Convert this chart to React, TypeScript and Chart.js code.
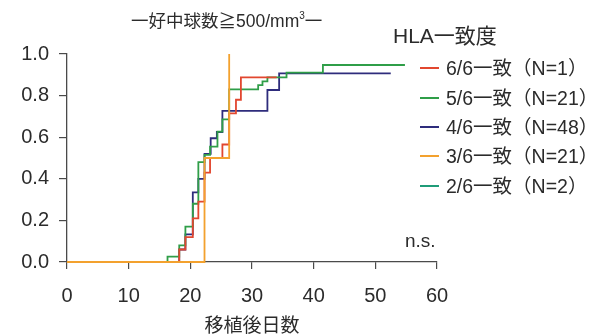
import React, { useEffect, useRef } from "react";
import { Chart, registerables } from "chart.js";

Chart.register(...registerables);

// ---- data ----
const seriesLabels = [
  "6/6一致（N=1）",
  "5/6一致（N=21）",
  "4/6一致（N=48）",
  "3/6一致（N=21）",
  "2/6一致（N=2）",
];
const seriesColors = ["#e2472f", "#2f9e48", "#2e2c7c", "#f3a12e", "#1f9c78"];

const redDays = [0, 18.2, 19.2, 20.4, 21.3, 22.3, 23.2, 25.2, 26.3, 27.4, 28.2, 34.0];
const redVals = [0, 0.06, 0.12, 0.21, 0.29, 0.43, 0.5, 0.565, 0.715, 0.78, 0.888, 0.888];

const greenDays = [0, 16.3, 18.2, 19.2, 20.4, 21.3, 22.3, 23.2, 24.4, 25.2, 26.3, 31.0, 31.7, 32.5, 35.6, 41.5, 54.8];
const greenVals = [0, 0.026, 0.08, 0.17, 0.28, 0.48, 0.515, 0.555, 0.627, 0.686, 0.83, 0.85, 0.868, 0.888, 0.91, 0.947, 0.947];

const blueDays = [0, 18.2, 19.2, 20.4, 21.3, 22.3, 23.3, 24.3, 25.2, 32.5, 34.4, 52.5];
const blueVals = [0, 0.06, 0.133, 0.335, 0.4, 0.52, 0.595, 0.625, 0.727, 0.827, 0.907, 0.907];

const orangeDays = [0, 22.3, 26.3];
const orangeVals = [0, 0.5, 1.0];

const tealDays: number[] = [];
const tealVals: number[] = [];

const xTicks = [0, 10, 20, 30, 40, 50, 60];
const yTicks = [0, 0.2, 0.4, 0.6, 0.8, 1.0];

const chartTitleA = "一好中球数≧500/mm";
const chartTitleSup = "3";
const chartTitleB = "一";
const legendTitle = "HLA一致度";
const xTitle = "移植後日数";
const sigText = "n.s.";

const FONT = "'Liberation Sans', 'Noto Sans CJK JP', sans-serif";
const TEXT = "#2b2b2b";
const AXIS = "#4a4a4a";

const allDays = [redDays, greenDays, blueDays, orangeDays, tealDays];
const allVals = [redVals, greenVals, blueVals, orangeVals, tealVals];
const drawOrder = [1, 2, 3, 0, 4];

export default function App() {
  const ref = useRef<HTMLCanvasElement | null>(null);

  useEffect(() => {
    if (!ref.current) return;
    const datasets = seriesLabels.map((label, i) => ({
      label,
      data: allDays[i].map((d, j) => ({ x: d, y: allVals[i][j] })),
      borderColor: seriesColors[i],
      backgroundColor: seriesColors[i],
      borderWidth: 1.8,
      pointRadius: 0,
      stepped: "before" as const,
      fill: false,
      order: drawOrder[i],
      clip: 4,
    }));
    const chart = new Chart(ref.current, {
      type: "line",
      data: { datasets },
      options: {
        animation: false,
        responsive: false,
        maintainAspectRatio: false,
        layout: { padding: { left: 0, right: 176, top: 54, bottom: 0 } },
        plugins: {
          legend: { display: false },
          tooltip: { enabled: false },
          title: { display: false },
        },
        scales: {
          x: {
            type: "linear",
            min: 0,
            max: 60,
            afterFit: (s: any) => {
              s.height = 74;
            },
            afterBuildTicks: (s: any) => {
              s.ticks = xTicks.map((v) => ({ value: v }));
            },
            ticks: {
              color: TEXT,
              padding: 15,
              font: { family: FONT, size: 20 },
              maxRotation: 0,
              autoSkip: false,
            },
            grid: {
              display: true,
              drawOnChartArea: false,
              drawTicks: true,
              tickLength: 7,
              color: AXIS,
              lineWidth: 1.2,
            },
            border: { display: true, color: AXIS, width: 1.3 },
            title: {
              display: true,
              text: xTitle,
              color: TEXT,
              font: { family: FONT, size: 19, lineHeight: 1.0 },
              padding: { top: 0, bottom: 0 },
            },
          },
          y: {
            type: "linear",
            min: 0,
            max: 1,
            afterFit: (s: any) => {
              s.width = 67;
            },
            afterBuildTicks: (s: any) => {
              s.ticks = yTicks.map((v) => ({ value: v }));
            },
            ticks: {
              color: TEXT,
              padding: 10,
              font: { family: FONT, size: 20 },
              callback: (v: any) => Number(v).toFixed(1),
            },
            grid: {
              display: true,
              drawOnChartArea: false,
              drawTicks: true,
              tickLength: 8,
              color: AXIS,
              lineWidth: 1.2,
            },
            border: { display: true, color: AXIS, width: 1.3 },
          },
        },
      },
    });
    return () => chart.destroy();
  }, []);

  const rowY = [68, 98, 127, 156, 186];

  const textStyle = (left: number, cy: number, size: number): React.CSSProperties => ({
    position: "absolute",
    left,
    top: cy - 12,
    height: 24,
    lineHeight: "24px",
    fontSize: size,
    fontFamily: FONT,
    color: TEXT,
    whiteSpace: "nowrap",
  });

  return (
    <div style={{ position: "fixed", left: 0, top: 0, width: 613, height: 336, background: "#fff", overflow: "hidden" }}>
      <canvas ref={ref} width={613} height={336} style={{ position: "absolute", left: 0, top: 0, width: 613, height: 336 }} />
      <div style={textStyle(131, 21, 17.5)}>
        {chartTitleA}
        <sup style={{ fontSize: 10, verticalAlign: "top", lineHeight: "14px" }}>{chartTitleSup}</sup>
        {chartTitleB}
      </div>
      <div style={textStyle(393, 36, 21)}>{legendTitle}</div>
      {seriesLabels.map((label, i) => (
        <React.Fragment key={label}>
          <div
            style={{
              position: "absolute",
              left: 420,
              top: rowY[i] - 1,
              width: 19,
              height: 2,
              background: seriesColors[i],
            }}
          />
          <div style={textStyle(446, rowY[i], 19.5)}>{label}</div>
        </React.Fragment>
      ))}
      <div style={textStyle(405, 241, 19)}>{sigText}</div>
    </div>
  );
}
